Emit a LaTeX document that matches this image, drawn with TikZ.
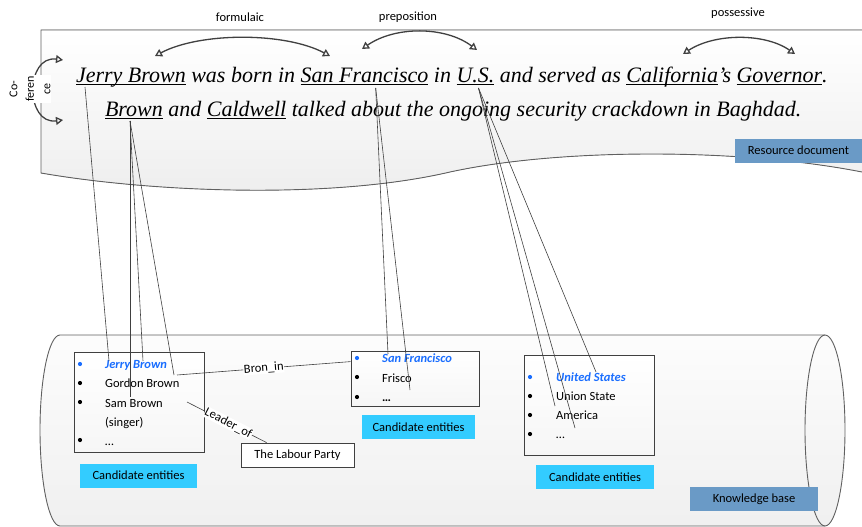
\documentclass[tikz,border=0pt]{standalone}
\usepackage{fontspec}
\setmainfont{Carlito}
\newfontfamily\sentfont{Liberation Serif}
\usetikzlibrary{arrows.meta,calc}
\definecolor{edgegray}{HTML}{404040}
\definecolor{outgray}{HTML}{606060}
\definecolor{rdblue}{HTML}{6A9AC6}
\definecolor{candcyan}{HTML}{33CCFF}
\definecolor{entblue}{HTML}{1A6EFF}
\newcommand\myul[1]{\setbox0\hbox{#1}\rlap{\rule[-3.2pt]{\wd0}{0.9pt}}\box0}
\begin{document}
\begin{tikzpicture}[x=1pt,y=-1pt,
 word/.style={anchor=base west, inner sep=0pt, outer sep=0pt, font=\sentfont\itshape\fontsize{22}{26}\selectfont},
 lbl/.style={font=\fontsize{12.5}{15}\selectfont, text=black},
 item/.style={anchor=base west, inner sep=0pt, font=\fontsize{12.5}{15}\selectfont},
 firstitem/.style={anchor=base west, inner sep=0pt, text=entblue, font=\fontsize{12.5}{15}\selectfont\bfseries\itshape},
 bul/.style={circle, fill=black, inner sep=0pt, minimum size=4.2pt},
 ebox/.style={draw=edgegray, line width=0.8pt, top color=white, bottom color=gray!7},
 cand/.style={fill=candcyan, lbl, minimum height=24, inner sep=0pt},
 tag/.style={fill=rdblue, lbl, minimum height=24, inner sep=0pt},
 link/.style={draw=edgegray, line width=0.6pt},
 rel/.style={{Triangle[open,length=7pt,width=8pt]}-{Triangle[open,length=7pt,width=8pt]}, draw=edgegray, line width=1.3pt},
 rellbl/.style={font=\fontsize{12.5}{15}\selectfont, fill=white, inner sep=0.5pt},
]
\useasboundingbox (0,0) rectangle (862,527);

% Resource document shape
\fill[top color=white, bottom color=gray!14] (862,30) -- (41,30) -- (41,173)
  .. controls (150,192) and (330,200) .. (450,172)
  .. controls (560,148) and (740,148) .. (862,172) -- cycle;
\draw[outgray, line width=0.9pt] (862,30) -- (41,30) -- (41,173)
  .. controls (150,192) and (330,200) .. (450,172)
  .. controls (560,148) and (740,148) .. (862,172);

% Knowledge base cylinder
\path[top color=gray!2, bottom color=gray!12, draw=outgray, line width=0.9pt]
  (60,335) -- (825,335)
  .. controls (836,335) and (845,377.5) .. (845,430)
  .. controls (845,482.5) and (836,526) .. (825,526)
  -- (60,526)
  .. controls (49,526) and (40,482.5) .. (40,430)
  .. controls (40,377.5) and (49,335) .. (60,335) -- cycle;
\draw[outgray, line width=0.9pt] (825,335)
  .. controls (814,335) and (805,377.5) .. (805,430)
  .. controls (805,482.5) and (814,526) .. (825,526);

% Tags
\node[tag, minimum width=127] (rd) at (798.5,150.5) {Resource document};
\node[tag, minimum width=128] (kb) at (754,499) {Knowledge base};

% Sentence line 1
\node[word] (s1) at (76,82) {\myul{Jerry Brown}};
\node[word] (s2) at (s1.base east) {\ was born in\ \null};
\node[word] (s3) at (s2.base east) {\myul{San Francisco}};
\node[word] (s4) at (s3.base east) {\ in\ \null};
\node[word] (s5) at (s4.base east) {\myul{U.S.}};
\node[word] (s6) at (s5.base east) {\ and served as\ \null};
\node[word] (s7) at (s6.base east) {\myul{California}};
\node[word] (s8) at (s7.base east) {’s\ \null};
\node[word] (s9) at (s8.base east) {\myul{Governor}};
\node[word] (s10) at (s9.base east) {.};
% Sentence line 2
\node[word] (t1) at (105,116) {\myul{Brown}};
\node[word] (t2) at (t1.base east) {\ and\ \null};
\node[word] (t3) at (t2.base east) {\myul{Caldwell}};
\node[word] (t4) at (t3.base east) {\ talked about the ongoing security crackdown in Baghdad.};

% Relation arrows on top
\node[lbl] (fl) at (240,17) {formulaic};
\node[lbl] (pl) at (408,17) {preposition};
\node[lbl] (ql) at (738,13) {possessive};
\coordinate (fa) at (155,56); \coordinate (fb) at (330,56);
\coordinate (pa) at (362,49); \coordinate (pb) at (477,50);
\coordinate (qa) at (683,54); \coordinate (qb) at (795,54);
\draw[rel] (fa) .. controls (200,32) and (285,32) .. (fb);
\draw[rel] (pa) .. controls (395,26) and (445,26) .. (pb);
\draw[rel] (qa) .. controls (715,33) and (765,33) .. (qb);
% Co-reference
\coordinate (ca) at (63,60); \coordinate (cb) at (63,120);
\draw[rel] (ca) .. controls (25,55) and (25,125) .. (cb);
\node[rotate=90, fill=white, align=center, inner sep=1pt, font=\fontsize{12}{16.5}\selectfont] (coref) at (30,89) {Co-\\feren\\ce};

% Candidate entity boxes
\node[ebox, minimum width=130, minimum height=100, inner sep=0pt] (b1) at (139,402) {};
\node[ebox, minimum width=128, minimum height=55, inner sep=0pt] (b2) at (415,378.5) {};
\node[ebox, minimum width=130, minimum height=100, inner sep=0pt] (b3) at (589,405) {};

% Box 1 items
\node[bul, fill=entblue] (d11) at (80,364) {};
\node[bul] (d12) at (80,383) {};
\node[bul] (d13) at (80,402) {};
\node[bul] (d14) at (80,440) {};
\node[firstitem] (e11) at (105,368) {Jerry Brown};
\node[item] (e12) at (105,387) {Gordon Brown};
\node[item] (e13) at (105,407) {Sam Brown};
\node[item] (e14) at (105,426) {(singer)};
\node[item] (e15) at (105,445) {\ldots};
% Box 2 items
\node[bul, fill=entblue] (d21) at (357,358) {};
\node[bul] (d22) at (357,377) {};
\node[bul] (d23) at (357,397) {};
\node[firstitem] (e21) at (382,362) {San Francisco};
\node[item] (e22) at (382,382) {Frisco};
\node[item] (e23) at (382,401) {\textbf{\ldots}};
% Box 3 items
\node[bul, fill=entblue] (d31) at (530,377) {};
\node[bul] (d32) at (530,396) {};
\node[bul] (d33) at (530,415) {};
\node[bul] (d34) at (530,434) {};
\node[firstitem] (e31) at (556,381) {United States};
\node[item] (e32) at (556,400) {Union State};
\node[item] (e33) at (556,419) {America};
\node[item] (e34) at (556,438) {\ldots};

% Candidate labels
\node[cand, minimum width=117] (c1) at (138.5,475.5) {Candidate entities};
\node[cand, minimum width=113] (c2) at (418.5,427) {Candidate entities};
\node[cand, minimum width=118] (c3) at (595,477) {Candidate entities};

% Labour party
\node[draw=edgegray, line width=0.8pt, fill=white, lbl, minimum width=113, minimum height=24, inner sep=0pt] (lp) at (297.5,455) {The Labour Party};

% Mention anchors
\coordinate (mJB) at ($(s1.base west)+(9,5)$);
\coordinate (mBR) at ($(t1.base west)+(25,5)$);
\coordinate (mSF) at ($(s3.base west)+(75,6)$);
\coordinate (mUS) at ($(s5.base west)+(22,6)$);
% Entity anchors
\coordinate (nJB1) at ($(e11.base west)+(4,-7)$);
\coordinate (nJB2) at ($(e11.base west)+(38,-7)$);
\coordinate (nGB) at ($(e12.base west)+(69,-12)$);
\coordinate (nSB) at ($(e13.base west)+(25,-10)$);
\coordinate (nSF) at ($(e21.base west)+(6,-8)$);
\coordinate (nFR) at ($(e22.base west)+(28,8)$);
\coordinate (nUS) at ($(e31.base west)+(40,-9)$);
\coordinate (nUN) at ($(e32.base west)+(-1,6)$);
\coordinate (nAM) at ($(e33.base west)+(19,9)$);

\draw[link] (mJB) -- (nJB1);
\draw[link] (mBR) -- (nJB2);
\draw[link] (mBR) -- (nGB);
\draw[link] (mBR) -- (nSB);
\draw[link] (mSF) -- (nSF);
\draw[link] (mSF) -- (nFR);
\draw[link] (mUS) -- (nUS);
\draw[link] (mUS) -- (nUN);
\draw[link] (mUS) -- (nAM);

% Relations between entities
\coordinate (gbR) at ($(e12.base west)+(72,-12)$);
\coordinate (sbR) at ($(e13.base west)+(82,-5)$);
\draw[link] (gbR) -- node[rellbl, sloped] {Bron\_in} ($(b2.north west)+(0,11)$);
\draw[link] (sbR) -- node[rellbl, sloped, pos=0.52] {Leader\_of} ($(lp.north west)+(26,0)$);
\end{tikzpicture}
\end{document}
